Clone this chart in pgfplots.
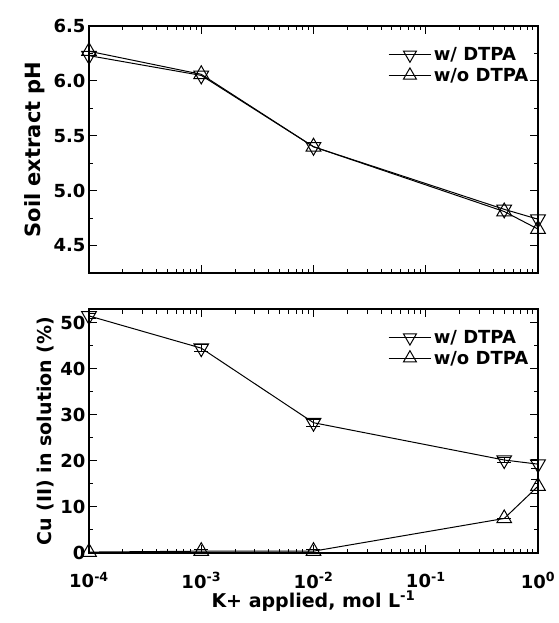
\documentclass[border=0pt]{standalone}
\usepackage{fontspec}
\setmainfont{DejaVu Sans}
\usepackage{pgfplots}
\pgfplotsset{compat=1.18}

% legend sample: line, marker, line
\pgfplotsset{
  longlegend/.style={legend image code/.code={
    \draw[mark repeat=2, mark phase=2, mark size=7.5pt]
      plot coordinates {(0cm,0cm) (0.75cm,0cm) (1.5cm,0cm)};}},
}

\begin{document}
\begin{tikzpicture}
\begin{axis}[name=top,
  xmode=log, xmin=1e-4, xmax=1,
  width=449pt, height=247pt, scale only axis=true,
  tick align=inside, tick style={black, line width=1pt},
  axis line style={line width=1.2pt},
  major tick length=8pt, minor tick length=4.5pt,
  /pgf/number format/assume math mode=true,
  tick label style={font=\bfseries\fontsize{18}{20}\selectfont},
  label style={font=\bfseries\fontsize{21}{23}\selectfont},
  legend style={draw=none, fill=none, font=\bfseries\fontsize{18}{20}\selectfont,
    at={(0.99,0.93)}, anchor=north east, row sep=2pt},
  legend cell align=left,
  xtick={1e-4,1e-3,1e-2,1e-1,1},
  xticklabels={},
  ymin=4.25, ymax=6.5,
  ytick={4.5,5.0,5.5,6.0,6.5}, minor ytick={4.25,4.75,5.25,5.75,6.25},
  yticklabel style={/pgf/number format/.cd, fixed, fixed zerofill, precision=1},
  ylabel={Soil extract pH}, ylabel style={yshift=2pt},
]
\addplot[black, line width=1pt, mark size=8.5pt, mark=triangle, mark options={rotate=180}, longlegend] coordinates {
  (1e-4, 6.23) (1e-3, 6.05) (1e-2, 5.40) (0.5, 4.83) (1, 4.74)
};
\addlegendentry{w/ DTPA}
\addplot[black, line width=1pt, mark size=8.5pt, mark=triangle, longlegend] coordinates {
  (1e-4, 6.27) (1e-3, 6.06) (1e-2, 5.40) (0.5, 4.81) (1, 4.65)
};
\addlegendentry{w/o DTPA}
\end{axis}

\begin{axis}[name=bot,
  at={(top.south west)}, anchor=north west, yshift=-36pt,
  xmode=log, xmin=1e-4, xmax=1,
  width=449pt, height=244pt, scale only axis=true,
  tick align=inside, tick style={black, line width=1pt},
  axis line style={line width=1.2pt},
  major tick length=8pt, minor tick length=4.5pt,
  /pgf/number format/assume math mode=true,
  tick label style={font=\bfseries\fontsize{18}{20}\selectfont},
  label style={font=\bfseries\fontsize{19}{21}\selectfont},
  legend style={draw=none, fill=none, font=\bfseries\fontsize{18}{20}\selectfont,
    at={(0.99,0.93)}, anchor=north east, row sep=2pt},
  legend cell align=left,
  xtick={1e-4,1e-3,1e-2,1e-1,1},
  ymin=0, ymax=53,
  ytick={0,10,20,30,40,50}, minor ytick={5,15,25,35,45},
  xticklabels={10\textsuperscript{-4},10\textsuperscript{-3},10\textsuperscript{-2},10\textsuperscript{-1},10\textsuperscript{0}},
  xticklabel style={yshift=-16pt},
  xlabel={K+ applied, mol L\textsuperscript{-1}}, xlabel style={yshift=4pt},
  ylabel={Cu (II) in solution (\%)},
]
\addplot[black, line width=1pt, mark size=8.5pt, mark=triangle, mark options={rotate=180}, longlegend,
  error bars/.cd, y dir=both, y explicit, error mark options={rotate=90, mark size=7pt, line width=1pt}]
  coordinates {
  (1e-4, 51.5) +- (0, 0.6)
  (1e-3, 44.5) +- (0, 0.8)
  (1e-2, 28.3) +- (0, 0.8)
  (0.5, 20.2) +- (0, 0.5)
  (1, 19.3) +- (0, 1.0)
};
\addlegendentry{w/ DTPA}
\addplot[black, line width=1pt, mark size=8.5pt, mark=triangle, longlegend,
  error bars/.cd, y dir=both, y explicit, error mark options={rotate=90, mark size=7pt, line width=1pt}]
  coordinates {
  (1e-4, 0.2) +- (0, 0)
  (1e-3, 0.4) +- (0, 0.3)
  (1e-2, 0.4) +- (0, 0.3)
  (0.5, 7.5) +- (0, 0)
  (1, 14.5) +- (0, 1.5)
};
\addlegendentry{w/o DTPA}
\end{axis}
% page margins as in the reference
\path (top.north west) ++(-89pt,26pt) (top.north east) ++(20pt,26pt)
      (bot.south west) ++(-89pt,-70pt);
\end{tikzpicture}
\end{document}
